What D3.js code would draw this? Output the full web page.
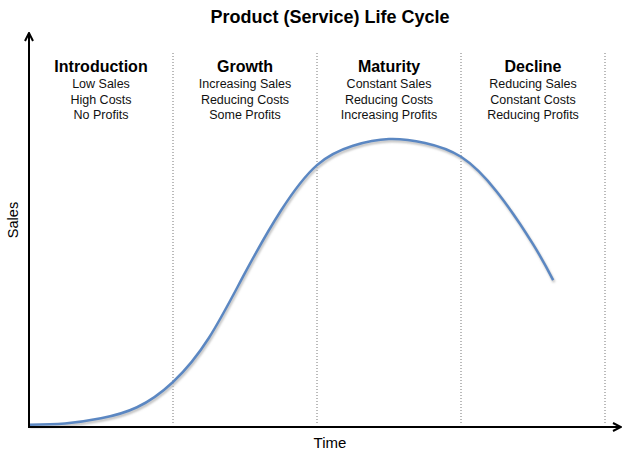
<!DOCTYPE html>
<html>
<head>
<meta charset="utf-8">
<script src="https://cdn.jsdelivr.net/npm/d3@7"></script>
<style>
body { margin:0; background:#fff; }
text { font-family: "Liberation Sans", Arial, sans-serif; fill:#000; }
</style>
</head>
<body>
<script>
var stages     = ["Introduction", "Growth", "Maturity", "Decline"];
var stageNotes = [["Low Sales", "High Costs", "No Profits"],
                  ["Increasing Sales", "Reducing Costs", "Some Profits"],
                  ["Constant Sales", "Reducing Costs", "Increasing Profits"],
                  ["Reducing Sales", "Constant Costs", "Reducing Profits"]];
var dividers   = [1, 2, 3, 4];

// time in stage units, sales in relative units
var timeValues  = [0, 0.25, 0.5, 0.75, 1.0, 1.25, 1.5, 1.75, 2.0, 2.25, 2.5, 2.75, 3.0, 3.25, 3.5, 3.64];
var salesValues = [0.6, 0.9, 2.2, 5.0, 11.4, 22.6, 39, 54.8, 66.3, 71.2, 72.9, 71.9, 68.4, 59.5, 46.3, 37.2];

var width  = 640;
var height = 454;

var svg = d3.select("body").append("svg").attr("width", width).attr("height", height);

var x = d3.scaleLinear().domain([0,4]).range([29,605]);
var y = d3.scaleLinear().domain([0,100]).range([427,32]);

var defs = svg.append("defs");
defs.append("marker").attr("id","arrow").attr("viewBox","0 0 10 10").attr("refX",9).attr("refY",5)
    .attr("markerWidth",5).attr("markerHeight",5).attr("orient","auto-start-reverse")
    .append("path").attr("d","M1,1 L9,5 L1,9").attr("fill","none").attr("stroke","#000").attr("stroke-width",2);
defs.append("filter").attr("id","blur").append("feGaussianBlur").attr("stdDeviation",1.2);

// title
svg.append("text").attr("x",330).attr("y",23).attr("text-anchor","middle")
    .style("font-size","18px").style("font-weight","bold").text("Product (Service) Life Cycle");

// stage dividers
svg.append("g").selectAll("line").data(dividers).enter().append("line")
    .attr("x1",function(d){return x(d);}).attr("x2",function(d){return x(d);})
    .attr("y1",53).attr("y2",425)
    .attr("stroke","#777").attr("stroke-width",1).attr("stroke-dasharray","1,2");

// stage labels
var labels = svg.append("g").selectAll("g").data(stages).enter().append("g")
    .attr("transform", function(d,i){return "translate("+x(i+0.5)+",0)";});
labels.append("text").attr("y",72).attr("text-anchor","middle")
    .style("font-size","16px").style("font-weight","bold").text(function(d){return d;});
labels.each(function(d,i){
    d3.select(this).selectAll("text.note").data(stageNotes[i]).enter().append("text").attr("class","note")
        .attr("y",function(n,j){return 88 + j*15.5;}).attr("text-anchor","middle")
        .style("font-size","12.5px").style("fill","#111").text(function(n){return n;});
});

// sales curve
var line = d3.line().x(function(d,i){return x(timeValues[i]);})
                    .y(function(d){return y(d);})
                    .curve(d3.curveNatural);

svg.append("path").attr("d", line(salesValues)).attr("transform","translate(1,2)")
    .attr("fill","none").attr("stroke","#bbb").attr("stroke-width",2.5).attr("filter","url(#blur)");
svg.append("path").attr("d", line(salesValues))
    .attr("fill","none").attr("stroke","#5b87c2").attr("stroke-width",2.5);

// axes
svg.append("line").attr("x1",29).attr("y1",427).attr("x2",29).attr("y2",33)
    .attr("stroke","#000").attr("stroke-width",2).attr("marker-end","url(#arrow)");
svg.append("line").attr("x1",28).attr("y1",427).attr("x2",621).attr("y2",427)
    .attr("stroke","#000").attr("stroke-width",2).attr("marker-end","url(#arrow)");

svg.append("text").attr("x",330).attr("y",448).attr("text-anchor","middle").style("font-size","15px").text("Time");
svg.append("text").attr("transform","translate(18,220) rotate(-90)").attr("text-anchor","middle").style("font-size","14.5px").text("Sales");
</script>
</body>
</html>
